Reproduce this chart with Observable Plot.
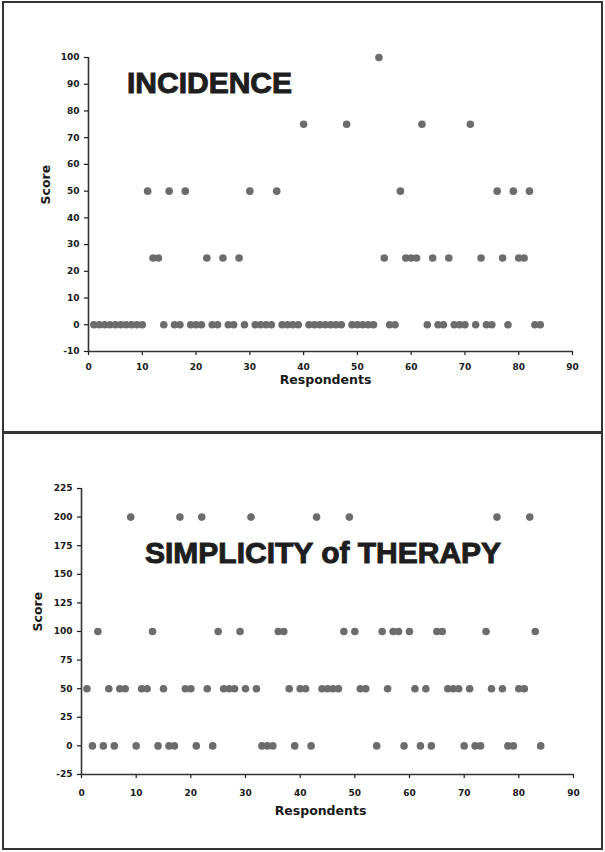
<!DOCTYPE html>
<html>
<head>
<meta charset="utf-8">
<script src="https://cdn.jsdelivr.net/npm/d3@7"></script>
<script src="https://cdn.jsdelivr.net/npm/@observablehq/plot@0.6"></script>
<style>
html, body { margin: 0; padding: 0; background: #fff; }
#wrap { position: relative; width: 605px; height: 852px; overflow: hidden; font-family: "Liberation Sans", Arial, sans-serif; }
.panel { position: absolute; left: 0; width: 605px; }
.panel svg { display: block; }
#p1 { top: 0; height: 433px; }
#p2 { top: 433px; height: 419px; }
.title { position: absolute; font-family: "Liberation Sans", Arial, sans-serif; font-weight: bold; font-size: 30px; line-height: 30px; color: #1e1e1e; white-space: nowrap; -webkit-text-stroke: 1px #1e1e1e; }
#border { position: absolute; left: 2px; top: 1px; width: 601px; height: 849px; box-sizing: border-box; border: 2px solid #333; pointer-events: none; }
#divider { position: absolute; left: 2px; top: 431px; width: 601px; height: 3px; background: #333; pointer-events: none; }
</style>
</head>
<body>
<div id="wrap">
  <div class="panel" id="p1"></div>
  <div class="panel" id="p2"></div>
  <div class="title" id="t1" style="left:127px; top:68px;">INCIDENCE</div>
  <div class="title" id="t2" style="left:145px; top:538px;">SIMPLICITY of THERAPY</div>
  <div id="border"></div>
  <div id="divider"></div>
</div>
<script>
// ---- Data ----
const xTicks = [0, 10, 20, 30, 40, 50, 60, 70, 80, 90];
const incidenceTicks = [-10, 0, 10, 20, 30, 40, 50, 60, 70, 80, 90, 100];
const simplicityTicks = [-25, 0, 25, 50, 75, 100, 125, 150, 175, 200, 225];

const incidenceRespondents = [
  1,2,3,4,5,6,7,8,9,10,
  11,12,13,14,15,16,17,18,19,20,
  21,22,23,24,25,26,27,28,29,30,
  31,32,33,34,35,36,37,38,39,40,
  41,42,43,44,45,46,47,48,49,50,
  51,52,53,54,55,56,57,58,59,60,
  61,62,63,64,65,66,67,68,69,70,
  71,72,73,74,75,76,77,78,79,80,
  81,82,83,84
];
const incidenceScores = [
  0,0,0,0,0,0,0,0,0,0,
  50,25,25,0,50,0,0,50,0,0,
  0,25,0,0,25,0,0,25,0,50,
  0,0,0,0,50,0,0,0,0,75,
  0,0,0,0,0,0,0,75,0,0,
  0,0,0,100,25,0,0,50,25,25,
  25,75,0,25,0,0,25,0,0,0,
  75,0,25,0,0,50,25,0,50,25,
  25,50,0,0
];

const simplicityRespondents = [
  1,2,3,4,5,6,7,8,9,10,
  11,12,13,14,15,16,17,18,19,20,
  21,22,23,24,25,26,27,28,29,30,
  31,32,33,34,35,36,37,38,39,40,
  41,42,43,44,45,46,47,48,49,50,
  51,52,54,55,56,57,58,59,60,
  61,62,63,64,65,66,67,68,69,70,
  71,72,73,74,75,76,77,78,79,80,
  81,82,83,84
];
const simplicityScores = [
  50,0,100,0,50,0,50,50,200,0,
  50,50,100,0,50,0,0,200,50,50,
  0,200,50,0,100,50,50,50,100,50,
  200,50,0,0,0,100,100,50,0,50,
  50,0,200,50,50,50,50,100,200,100,
  50,50,0,100,50,100,100,0,100,
  50,0,50,0,100,100,50,50,50,0,
  50,0,0,100,50,200,50,0,0,50,
  50,200,100,0
];

// ---- Styles ----
const ink = "#1a1a1a";
const dotColor = "#6c6c6c";
const tickFont = "DejaVu Sans, Liberation Sans, Arial, sans-serif";

function makeChart(opts) {
  const rows = opts.resp.map((r, i) => ({respondent: r, score: opts.scores[i]}));
  return Plot.plot({
    width: 605,
    height: opts.height,
    marginLeft: opts.ml,
    marginRight: opts.mr,
    marginTop: opts.mt,
    marginBottom: opts.mb,
    style: {fontFamily: tickFont, fontSize: "9px", fontWeight: "bold", color: ink, background: "transparent", overflow: "visible"},
    x: {domain: [xTicks[0], xTicks[xTicks.length - 1]]},
    y: {domain: [opts.yTicks[0], opts.yTicks[opts.yTicks.length - 1]]},
    marks: [
      Plot.axisX({ticks: xTicks, tickSize: 4, tickPadding: opts.xPad, tickFormat: d => String(d), label: null, stroke: ink, strokeWidth: 1.2, fill: ink, fontWeight: "bold", fontSize: 9}),
      Plot.axisY({ticks: opts.yTicks, tickSize: 4, tickPadding: 5, tickFormat: d => String(d), label: null, stroke: ink, strokeWidth: 1.2, fill: ink, fontWeight: "bold", fontSize: 9}),
      Plot.ruleX([xTicks[0]], {stroke: "#333", strokeWidth: 1.6}),
      Plot.ruleY([opts.yTicks[0]], {stroke: "#333", strokeWidth: 1.6}),
      Plot.text(["Respondents"], {frameAnchor: "bottom", dx: opts.rdx, dy: opts.rdy, fontSize: 12.5, fontWeight: "bold", fill: ink}),
      Plot.text(["Score"], {frameAnchor: "left", dx: opts.sdx, rotate: -90, fontSize: 12.5, fontWeight: "bold", fill: ink}),
      Plot.dot(rows, {x: "respondent", y: "score", r: 3.8, fill: dotColor, stroke: "none"})
    ]
  });
}

document.getElementById("p1").appendChild(makeChart({
  resp: incidenceRespondents, scores: incidenceScores, yTicks: incidenceTicks,
  height: 433, ml: 88, mr: 33, mt: 57, mb: 82, xPad: 8,
  rdx: -5, rdy: 32, sdx: -43
}));

document.getElementById("p2").appendChild(makeChart({
  resp: simplicityRespondents, scores: simplicityScores, yTicks: simplicityTicks,
  height: 419, ml: 81, mr: 32, mt: 55, mb: 78, xPad: 11,
  rdx: -7, rdy: 40, sdx: -44
}));
</script>
</body>
</html>
